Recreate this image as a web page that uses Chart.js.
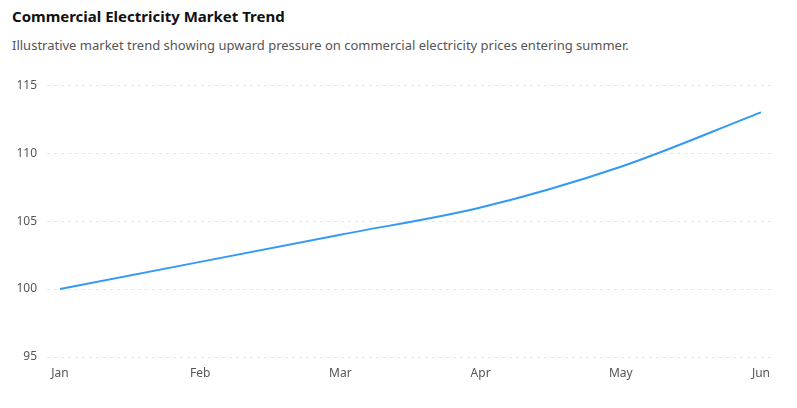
<!DOCTYPE html>
<html lang="en">
  <head>
    <meta charset="UTF-8" />
    <title>Commercial Electricity Market Trend</title>
    <script src="https://cdn.jsdelivr.net/npm/chart.js@4.4.1/dist/chart.umd.min.js"></script>
    <style>
      body {
        margin: 0;
        background: #fff;
        font-family: "Noto Sans", sans-serif;
      }
      #title {
        position: absolute;
        left: 12px;
        top: 6px;
        font-size: 15px;
        font-weight: bold;
        color: #111;
      }
      #subtitle {
        position: absolute;
        left: 12px;
        top: 36px;
        font-size: 13px;
        color: #555;
      }
      #chart-container {
        position: absolute;
        left: 0;
        top: 68px;
        width: 797px;
        height: 332px;
      }
    </style>
  </head>
  <body>
    <div id="title">Commercial Electricity Market Trend</div>
    <div id="subtitle">
      Illustrative market trend showing upward pressure on commercial electricity prices entering summer.
    </div>
    <div id="chart-container">
      <canvas id="trendChart"></canvas>
    </div>

    <script>
      const months = ["Jan", "Feb", "Mar", "Apr", "May", "Jun"];
      const priceIndex = [100, 102, 104, 106, 109, 113];
      const yTicks = [95, 100, 105, 110, 115];

      const points = priceIndex.map((v, i) => ({ x: i, y: v }));

      const ctx = document.getElementById("trendChart").getContext("2d");
      new Chart(ctx, {
        type: "line",
        data: {
          datasets: [
            {
              label: "Market index",
              data: points,
              borderColor: "#3399f5",
              borderWidth: 2,
              pointRadius: 0,
              fill: false,
              cubicInterpolationMode: "monotone",
            },
          ],
        },
        options: {
          responsive: true,
          maintainAspectRatio: false,
          animation: false,
          layout: {
            padding: { top: 11, right: 24, bottom: 13, left: 0 },
          },
          plugins: {
            legend: { display: false },
            tooltip: { enabled: false },
          },
          scales: {
            x: {
              type: "linear",
              min: -0.093,
              max: 5.086,
              afterFit: (scale) => {
                scale.height = 30;
              },
              afterBuildTicks: (scale) => {
                scale.ticks = months.map((m, i) => ({ value: i }));
              },
              grid: { display: false },
              border: { display: false },
              ticks: {
                padding: 1,
                color: "#555",
                font: { family: "Noto Sans", size: 12 },
                callback: (v) => months[v],
              },
            },
            y: {
              min: yTicks[0],
              max: yTicks[yTicks.length - 1],
              afterFit: (scale) => {
                scale.width = 47;
              },
              afterBuildTicks: (scale) => {
                scale.ticks = yTicks.map((v) => ({ value: v }));
              },
              grid: {
                color: "#e3e3e3",
                drawTicks: false,
              },
              border: { display: false, dash: [3, 4] },
              ticks: {
                padding: 10,
                color: "#555",
                font: { family: "Noto Sans", size: 12 },
              },
            },
          },
        },
      });
    </script>
  </body>
</html>
